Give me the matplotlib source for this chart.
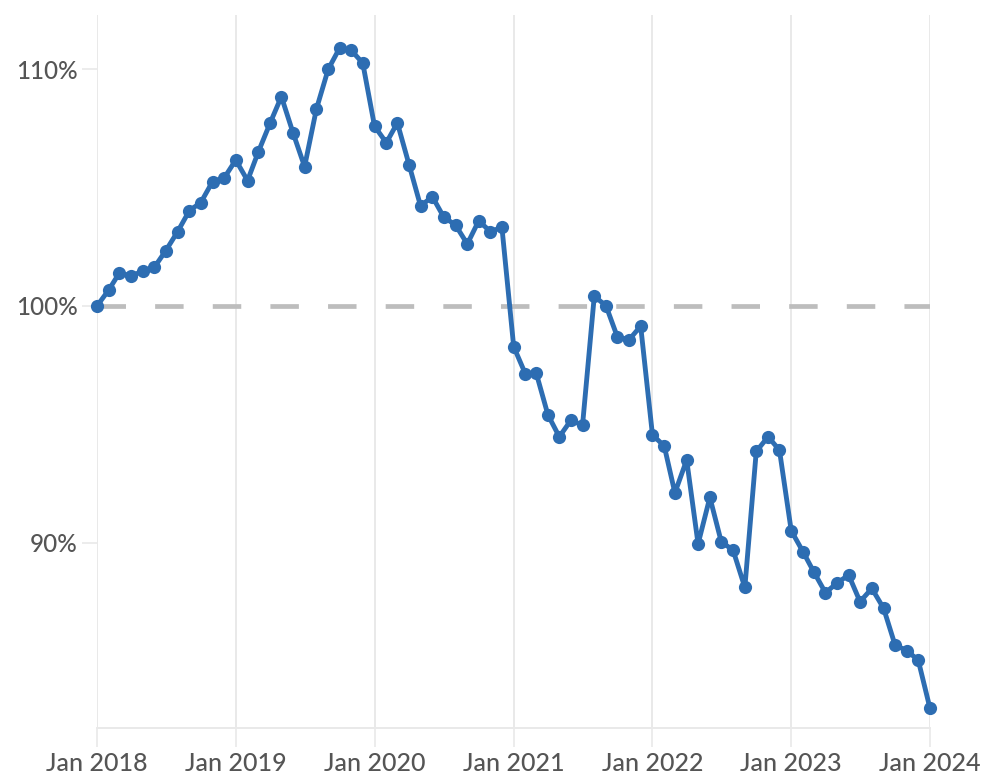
import matplotlib
matplotlib.use("Agg")
import matplotlib.pyplot as plt
import matplotlib.dates as mdates
import pandas as pd

# Monthly index, Jan 2018 = 100%
start_month = "2018-01-01"
index_values = [
    100.0, 100.68, 101.4, 101.27, 101.47, 101.64, 102.34, 103.14, 104.03, 104.37, 105.26, 105.4,
    106.17, 105.3, 106.5, 107.72, 108.85, 107.3, 105.89, 108.32, 110.0, 110.9, 110.8, 110.27,
    107.6, 106.9, 107.74, 105.96, 104.23, 104.62, 103.76, 103.42, 102.62, 103.6, 103.14, 103.33,
    98.28, 97.12, 97.18, 95.4, 94.47, 95.18, 94.95, 100.42, 100.0, 98.68, 98.58, 99.15,
    94.55, 94.08, 92.1, 93.49, 89.94, 91.91, 90.03, 89.68, 88.1, 93.85, 94.47, 93.91,
    90.5, 89.61, 88.77, 87.88, 88.28, 88.63, 87.5, 88.06, 87.22, 85.67, 85.43, 85.03,
    82.99,
]
baseline = 100.0

x_tick_dates = ["2018-01-01", "2019-01-01", "2020-01-01", "2021-01-01",
                "2022-01-01", "2023-01-01", "2024-01-01"]
x_tick_labels = ["Jan 2018", "Jan 2019", "Jan 2020", "Jan 2021",
                 "Jan 2022", "Jan 2023", "Jan 2024"]
y_ticks = [90, 100, 110]
y_tick_labels = ["90%", "100%", "110%"]

months = pd.date_range(start_month, periods=len(index_values), freq="MS")
xt = pd.to_datetime(x_tick_dates)

plt.rcParams["font.family"] = ["Lato", "DejaVu Sans"]

W, H = 987, 775
fig = plt.figure(figsize=(W / 100, H / 100), dpi=100)
ax = fig.add_axes([97 / W, 1 - 728 / H, 833 / W, (728 - 15) / H])

line_color = "#2d6db2"
grid_color = "#e9e9e9"
text_color = "#555555"

# vertical year gridlines
for d in xt:
    ax.axvline(d, color=grid_color, lw=1.4, zorder=0)

# reference line at 100%
plt.rcParams["lines.scale_dashes"] = False
ax.axhline(baseline, color="#bdbdbd", lw=3.4, dashes=(20.5, 21), zorder=1)

ax.plot(months, index_values, color=line_color, lw=3.5, marker="o", ms=9.5,
        markeredgewidth=0, zorder=3, clip_on=False, solid_joinstyle="round")

ax.set_xlim(xt[0], xt[-1])
ax.set_ylim(82.16, 112.3)

ax.set_xticks(xt)
ax.set_xticklabels(x_tick_labels)
ax.set_yticks(y_ticks)
ax.set_yticklabels(y_tick_labels)

ax.tick_params(axis="x", length=14, width=1.2, color=grid_color, pad=3,
               labelsize=18, labelcolor=text_color)
ax.tick_params(axis="y", length=11, width=1.2, color=grid_color, pad=3,
               labelsize=17.5, labelcolor=text_color)
for lbl in ax.get_xticklabels() + ax.get_yticklabels():
    lbl.set_fontweight("medium")

for s in ["top", "right", "left"]:
    ax.spines[s].set_visible(False)
ax.spines["bottom"].set_color(grid_color)
ax.spines["bottom"].set_linewidth(1.4)

fig.savefig("out.png", dpi=100, facecolor="white")
